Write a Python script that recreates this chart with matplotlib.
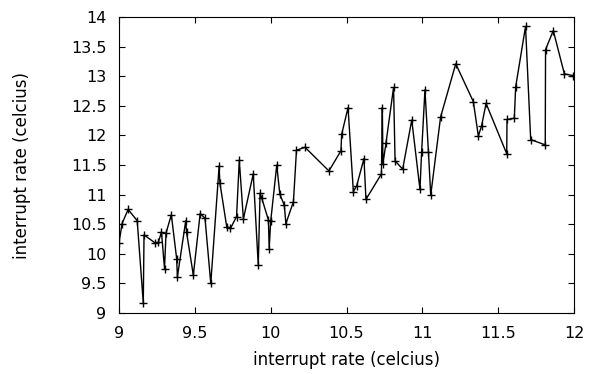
import matplotlib
matplotlib.use("Agg")
import matplotlib.pyplot as plt

plt.rcParams['font.family'] = ['DejaVu Sans']

x_vals = [9.00, 9.02, 9.06, 9.12, 9.16, 9.165, 9.24, 9.26, 9.28, 9.30,
          9.31, 9.345, 9.38, 9.385, 9.44, 9.445, 9.49, 9.535, 9.567, 9.605,
          9.66, 9.665, 9.71, 9.735, 9.775, 9.793, 9.82, 9.885, 9.918, 9.93,
          9.94, 9.985, 9.99, 10.00, 10.04, 10.06, 10.09, 10.10, 10.15, 10.17,
          10.226, 10.384, 10.463, 10.468, 10.51, 10.545, 10.567, 10.615, 10.628, 10.73,
          10.736, 10.74, 10.76, 10.81, 10.82, 10.87, 10.93, 10.984, 10.995, 11.017,
          11.04, 11.055, 11.12, 11.22, 11.336, 11.369, 11.39, 11.42, 11.556, 11.558,
          11.606, 11.615, 11.68, 11.714, 11.81, 11.812, 11.863, 11.936, 11.995]
y_vals = [10.18, 10.51, 10.75, 10.56, 9.17, 10.32, 10.18, 10.20, 10.37, 9.75,
          10.35, 10.66, 9.92, 9.61, 10.56, 10.37, 9.64, 10.68, 10.60, 9.50,
          11.48, 11.20, 10.46, 10.43, 10.63, 11.58, 10.59, 11.35, 9.81, 11.02,
          10.95, 10.57, 10.09, 10.55, 11.50, 11.01, 10.82, 10.51, 10.88, 11.75,
          11.80, 11.40, 11.74, 12.02, 12.47, 11.05, 11.15, 11.61, 10.92, 11.35,
          12.47, 11.52, 11.87, 12.81, 11.57, 11.43, 12.26, 11.09, 11.72, 12.77,
          11.72, 10.99, 12.31, 13.21, 12.57, 11.99, 12.16, 12.54, 11.69, 12.27,
          12.29, 12.82, 13.84, 11.93, 11.84, 13.45, 13.77, 13.04, 13.01]

x_ticks = [9, 9.5, 10, 10.5, 11, 11.5, 12]
y_ticks = [9, 9.5, 10, 10.5, 11, 11.5, 12, 12.5, 13, 13.5, 14]

fig = plt.figure(figsize=(5.9, 3.74), dpi=100)
ax = fig.add_axes([0.2017, 0.163, 0.7713, 0.7915])
ax.plot(x_vals, y_vals, '-+', color='black', linewidth=1, markersize=6,
        markeredgewidth=1)
ax.set_xlim(9, 12)
ax.set_ylim(9, 14)
ax.set_xticks(x_ticks)
ax.set_xticklabels([f'{t:g}' for t in x_ticks])
ax.set_yticks(y_ticks)
ax.set_yticklabels([f'{t:g}' for t in y_ticks])
ax.tick_params(direction='in', top=True, right=True, length=4, labelsize=11.5,
               pad=9)
ax.set_xlabel('interrupt rate (celcius)', fontsize=12, va='center')
ax.set_ylabel('interrupt rate (celcius)', fontsize=12, va='center')
ax.xaxis.set_label_coords(0.5, -0.159)
ax.yaxis.set_label_coords(-0.213, 0.5)
fig.savefig('out.png', dpi=100)
